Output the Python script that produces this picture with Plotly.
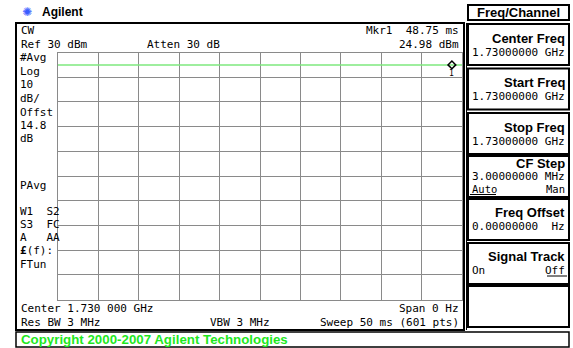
import plotly.graph_objects as go

W, H = 573, 348

# trace data (zero span, flat CW level)
sweep_ms = [0, 10, 20, 30, 40, 48.75, 50]
level_dbm = [24.98, 24.98, 24.98, 24.98, 24.98, 24.98, 24.98]
marker_ms = [48.75]
marker_dbm = [24.98]

ref_level = 30
db_per_div = 10
sweep_time = 50

left_labels = ["#Avg", "Log", "10", "dB/", "Offst", "14.8", "dB"]
left_labels2 = ["W1  S2", "S3  FC", "A   AA", "<b>£</b>(f):", "FTun"]

softkey_titles = ["Center Freq", "Start Freq", "Stop Freq", "CF Step", "Freq Offset", "Signal Track", ""]
softkey_values = ["1.73000000 GHz", "1.73000000 GHz", "1.73000000 GHz", "3.00000000 MHz", "0.00000000  Hz", "", ""]

MONO = "DejaVu Sans Mono"
BOLD = "Liberation Sans"


def px(x):
    return x / W


def py(y):
    return 1 - y / H


fig = go.Figure()

fig.add_trace(go.Scatter(
    x=sweep_ms, y=level_dbm, mode="lines",
    line=dict(color="#7ee87e", width=1.5), hoverinfo="skip",
))
fig.add_trace(go.Scatter(
    x=marker_ms, y=marker_dbm, mode="markers",
    marker=dict(symbol="diamond-open", size=6, color="black", line=dict(width=1.5)),
    hoverinfo="skip",
))

grid_col = "#8a8a8a"
fig.update_xaxes(
    domain=[px(58), px(462)], range=[0, sweep_time], dtick=sweep_time / 10,
    showgrid=True, gridcolor=grid_col, gridwidth=1, zeroline=False,
    showticklabels=False, ticks="", showline=True, linecolor=grid_col, linewidth=1, mirror=True,
    fixedrange=True,
)
fig.update_yaxes(
    domain=[py(299.5), py(52.5)], range=[ref_level - 10 * db_per_div, ref_level], dtick=db_per_div,
    showgrid=True, gridcolor=grid_col, gridwidth=1, zeroline=False,
    showticklabels=False, ticks="", showline=True, linecolor=grid_col, linewidth=1, mirror=True,
    fixedrange=True,
)

shapes = []
ann = []


def text(x, y, s, anchor="left", size=11, font=MONO, color="black"):
    ann.append(dict(x=px(x), y=py(y), xref="paper", yref="paper", text=s, showarrow=False,
                    xanchor=anchor, yanchor="middle", font=dict(family=font, size=size, color=color)))


def box(x0, y0, x1, y1, width=2, color="black"):
    shapes.append(dict(type="rect", xref="paper", yref="paper", x0=px(x0), y0=py(y0), x1=px(x1), y1=py(y1),
                       line=dict(color=color, width=width)))


def hline(x0, x1, y, width=1):
    shapes.append(dict(type="line", xref="paper", yref="paper", x0=px(x0), x1=px(x1), y0=py(y), y1=py(y),
                       line=dict(color="black", width=width)))


# header logo
text(20, 12, "✺", size=12, font="DejaVu Sans", color="#3a5cff")
text(40, 12, "<b>Agilent</b>", size=12, font=BOLD)

# main display frame
box(16, 23, 464, 330, width=2)
shapes.append(dict(type="line", xref="paper", yref="paper", x0=px(466.5), x1=px(466.5), y0=py(23), y1=py(330),
                   line=dict(color="black", width=1)))

# annotation text on the display
text(19, 31, "CW")
text(19, 45, f"Ref {ref_level} dBm")
text(145, 45, "Atten 30 dB")
text(461, 31, f"Mkr1  {marker_ms[0]:.2f} ms", anchor="right")
text(461, 45, f"{marker_dbm[0]:.2f} dBm", anchor="right")
for i, s in enumerate(left_labels):
    text(18, 58 + i * 13.5, s)
text(18, 185, "PAvg")
for i, s in enumerate(left_labels2):
    text(18, 211 + i * 13.3, s)
text(19, 308, "Center 1.730 000 GHz")
text(461, 308, "Span 0 Hz", anchor="right")
text(19, 322, "Res BW 3 MHz")
text(208, 322, "VBW 3 MHz")
text(461, 322, f"Sweep {sweep_time} ms (601 pts)", anchor="right")

# marker number under the diamond
ann.append(dict(x=marker_ms[0], y=marker_dbm[0], xref="x", yref="y", text="1", showarrow=False,
                yshift=-9, font=dict(family=MONO, size=8, color="black")))

# softkey menu
box(468, 5, 569, 20, width=2)
text(518.5, 13, "<b>Freq/Channel</b>", anchor="center", size=13, font=BOLD)
tops = [24, 68.5, 113, 156, 199, 243, 286]
title_dy = [14, 14, 14, 7.5, 14, 13, 0]
value_dy = [28, 28, 28, 20, 27, 0, 0]
for top, title, value, tdy, vdy in zip(tops, softkey_titles, softkey_values, title_dy, value_dy):
    box(468, top, 569, top + 41, width=2)
    if title:
        text(567, top + tdy, f"<b>{title}</b>", anchor="right", size=13, font=BOLD)
    if value:
        text(567, top + vdy, value, anchor="right", size=11)
text(470, 189, "Auto", size=10.5)
hline(470, 496, 194.5)
text(567, 189, "Man", anchor="right", size=10.5)
text(470, 270, "On", size=11)
text(567, 270, "Off", anchor="right", size=11)
hline(547, 567, 276)

# status line
box(16, 332, 569, 347, width=1.5)
text(19, 339.5, "<b>Copyright 2000-2007 Agilent Technologies</b>", size=13.3, font=BOLD, color="#1ee81e")

fig.update_layout(
    width=W, height=H, margin=dict(l=0, r=0, t=0, b=0),
    paper_bgcolor="white", plot_bgcolor="white", showlegend=False,
    shapes=shapes, annotations=ann,
)

fig.write_html("out.html", config={"displayModeBar": False, "staticPlot": True},
               post_script="document.body.style.margin='0';document.body.style.overflow='hidden';")
